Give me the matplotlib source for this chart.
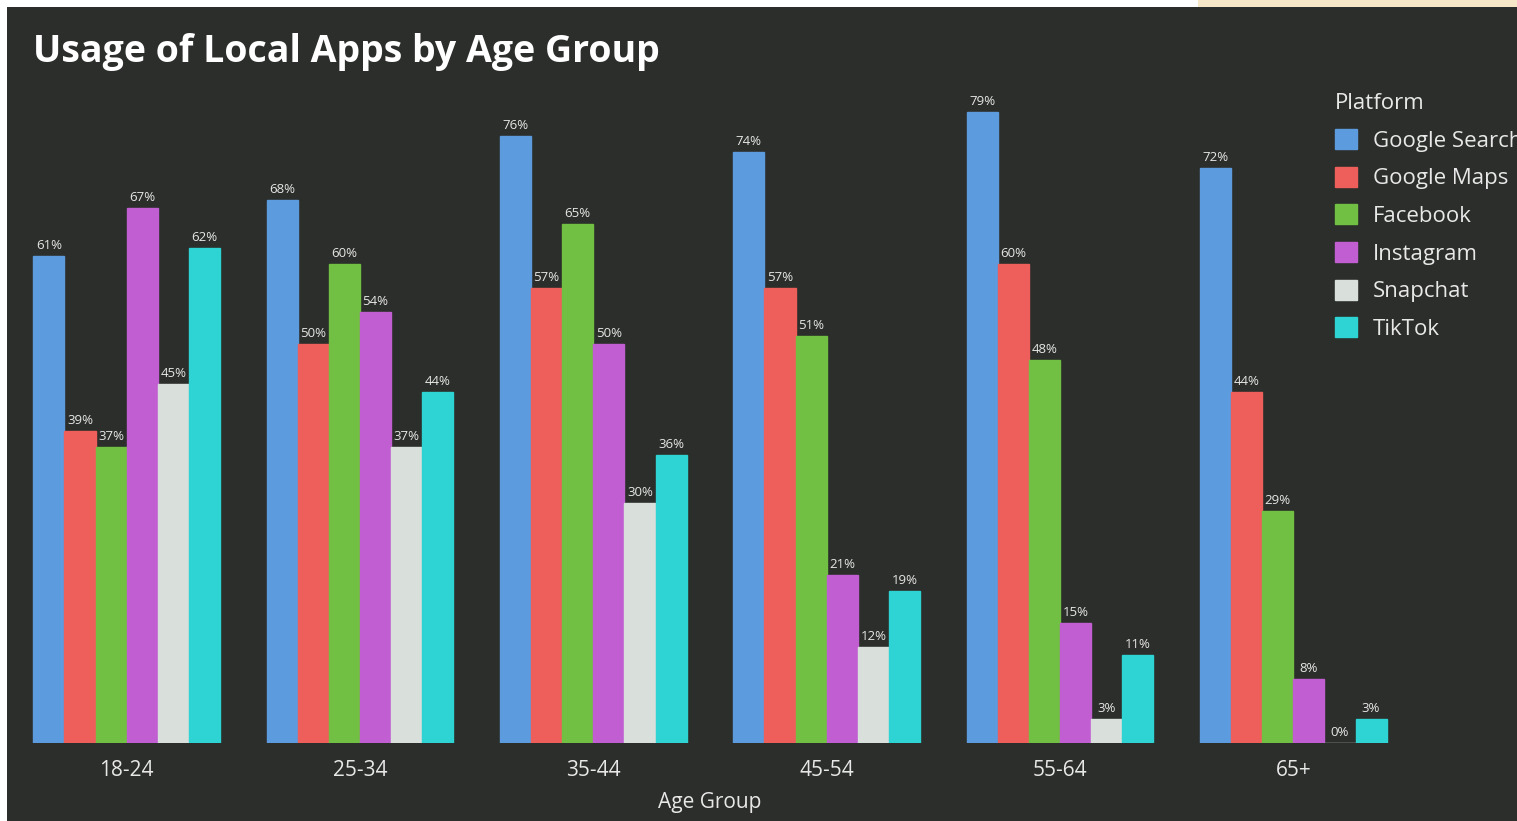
import matplotlib.pyplot as plt
import matplotlib.patches as mpatches
import numpy as np

age_groups = ['18-24', '25-34', '35-44', '45-54', '55-64', '65+']
platforms = ['Google Search', 'Google Maps', 'Facebook', 'Instagram', 'Snapchat', 'TikTok']
google_search = [61, 68, 76, 74, 79, 72]
google_maps = [39, 50, 57, 57, 60, 44]
facebook = [37, 60, 65, 51, 48, 29]
instagram = [67, 54, 50, 21, 15, 8]
snapchat = [45, 37, 30, 12, 3, 0]
tiktok = [62, 44, 36, 19, 11, 3]
colors = ['#5b9bde', '#ee5f5b', '#72c043', '#c15fd2', '#d9dfda', '#2ed3d3']

series = [google_search, google_maps, facebook, instagram, snapchat, tiktok]
bg = '#2b2e2a'

plt.rcParams['font.family'] = ['Open Sans', 'DejaVu Sans']

fig = plt.figure(figsize=(15.17, 8.21), dpi=100, facecolor='white')
# screenshot frame: light strips at top and left
fig.patches.append(mpatches.Rectangle((0.79, 1 - 7 / 821), 0.21, 7 / 821, transform=fig.transFigure,
                                      facecolor='#f6e7c9', edgecolor='none', zorder=-10))
fig.patches.append(mpatches.Rectangle((7 / 1517, 0), 1, 1 - 7 / 821, transform=fig.transFigure,
                                      facecolor=bg, edgecolor='none', zorder=-10))

ax = fig.add_axes([10 / 1517, 78 / 821, 1400 / 1517, 679 / 821])
ax.set_facecolor('none')

x = np.arange(len(age_groups))
w = 0.8 / len(platforms)
for i, (name, vals, c) in enumerate(zip(platforms, series, colors)):
    pos = x - 0.4 + w * (i + 0.5)
    bars = ax.bar(pos, vals, width=w, color=c, edgecolor=c, linewidth=1, label=name)
    for b, v in zip(bars, vals):
        ax.text(b.get_x() + b.get_width() / 2, v + 0.5, f'{v}%', ha='center', va='bottom',
                fontsize=9.5, color='#e6e6e6')

ax.set_xlim(-0.5, 5.5)
ax.set_ylim(0, 85)
ax.set_yticks([])
ax.set_xticks(x)
ax.set_xticklabels(age_groups, fontsize=15, color='#e8e8e8')
ax.tick_params(axis='x', length=0, pad=12)
for s in ax.spines.values():
    s.set_visible(False)
ax.set_xlabel('Age Group', fontsize=15, color='#e8e8e8', labelpad=8)

fig.text(33 / 1517, 1 - 52 / 821, 'Usage of Local Apps by Age Group', fontsize=27, fontweight='bold',
         color='white', va='center', ha='left')

leg = ax.legend(title='Platform', loc='upper left', bbox_to_anchor=(1315 / 1517, 1 - 73 / 821),
                bbox_transform=fig.transFigure, frameon=False, fontsize=16, title_fontsize=16,
                handlelength=1.0, handleheight=1.0, handletextpad=0.7, labelspacing=0.68)
leg._legend_box.align = 'left'
for t in leg.get_texts():
    t.set_color('#e8e8e8')
leg.get_title().set_color('#e8e8e8')

fig.savefig('out.png', dpi=100, facecolor=fig.get_facecolor())
